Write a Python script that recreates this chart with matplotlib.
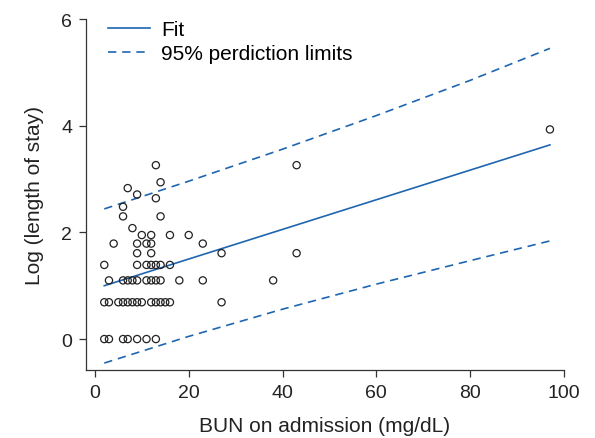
"""
LOG LENGTH OF STAY VS BUN ON ADMISSION, WITH FIT AND 95% PREDICTION LIMITS
"""

import matplotlib

matplotlib.use("Agg")
import matplotlib.pyplot as plt
import numpy as np

plt.rcParams["font.family"] = ["Liberation Sans", "DejaVu Sans"]

# --- data ---
# observations, grouped by log(length of stay) level
levels = [0.0, 0.69, 1.10, 1.39, 1.61, 1.79, 1.95, 2.08, 2.30, 2.48, 2.64, 2.71, 2.83, 2.94, 3.26, 3.93]
bun_by_level = [
    [2, 3, 6, 7, 9, 11, 13],
    [2, 3, 5, 6, 7, 8, 9, 10, 12, 13, 14, 15, 16, 27],
    [3, 6, 7, 8, 9, 11, 12, 13, 14, 18, 23, 38],
    [2, 9, 11, 12, 13, 14, 16],
    [9, 12, 27, 43],
    [4, 9, 11, 12, 23],
    [10, 12, 16, 20],
    [8],
    [6, 14],
    [6],
    [13],
    [9],
    [7],
    [14],
    [13, 43],
    [97],
]

fit_x = [2, 97]
fit_y = [1.00, 3.64]

limit_x = [2, 20, 40, 60, 80, 97]
upper_limit = [2.44, 2.96, 3.56, 4.19, 4.85, 5.45]
lower_limit = [-0.45, 0.05, 0.56, 1.03, 1.47, 1.84]

BLUE = "#1f66b0"

# --- plot ---
bun = np.concatenate([np.asarray(b, dtype=float) for b in bun_by_level])
los = np.concatenate([np.full(len(b), lvl) for lvl, b in zip(levels, bun_by_level)])

fig = plt.figure(figsize=(5.95, 4.39), dpi=100)
ax = fig.add_axes([0.1445, 0.1549, 0.8034, 0.7995])

ax.plot(fit_x, fit_y, color=BLUE, linewidth=1.2, label="Fit")
ax.plot(limit_x, upper_limit, color=BLUE, linewidth=1.2, linestyle=(0, (5, 3.5)),
        label="95% perdiction limits")
ax.plot(limit_x, lower_limit, color=BLUE, linewidth=1.2, linestyle=(0, (5, 3.5)))
ax.scatter(bun, los, s=27, facecolors="none", edgecolors="#222222", linewidths=0.9, zorder=3)

ax.set_xlim(-1.9, 100)
ax.set_ylim(-0.58, 6)
ax.set_xticks([0, 20, 40, 60, 80, 100])
ax.set_yticks([0, 2, 4, 6])
ax.spines["top"].set_visible(False)
ax.spines["right"].set_visible(False)
for side in ("left", "bottom"):
    ax.spines[side].set_color("#333333")
    ax.spines[side].set_linewidth(0.9)
ax.tick_params(direction="out", length=5, width=0.9, colors="#333333", labelsize=14,
               labelcolor="#222222", pad=5)

ax.set_xlabel("BUN on admission (mg/dL)", fontsize=15, color="#222222", labelpad=11)
ax.set_ylabel("Log (length of stay)", fontsize=15, color="#222222", labelpad=12)

ax.legend(loc="upper left", frameon=False, fontsize=15, handlelength=2.0,
          handletextpad=0.55, labelspacing=0.25, borderaxespad=0.0,
          bbox_to_anchor=(0.029, 1.021))

fig.savefig("out.png", dpi=100)
